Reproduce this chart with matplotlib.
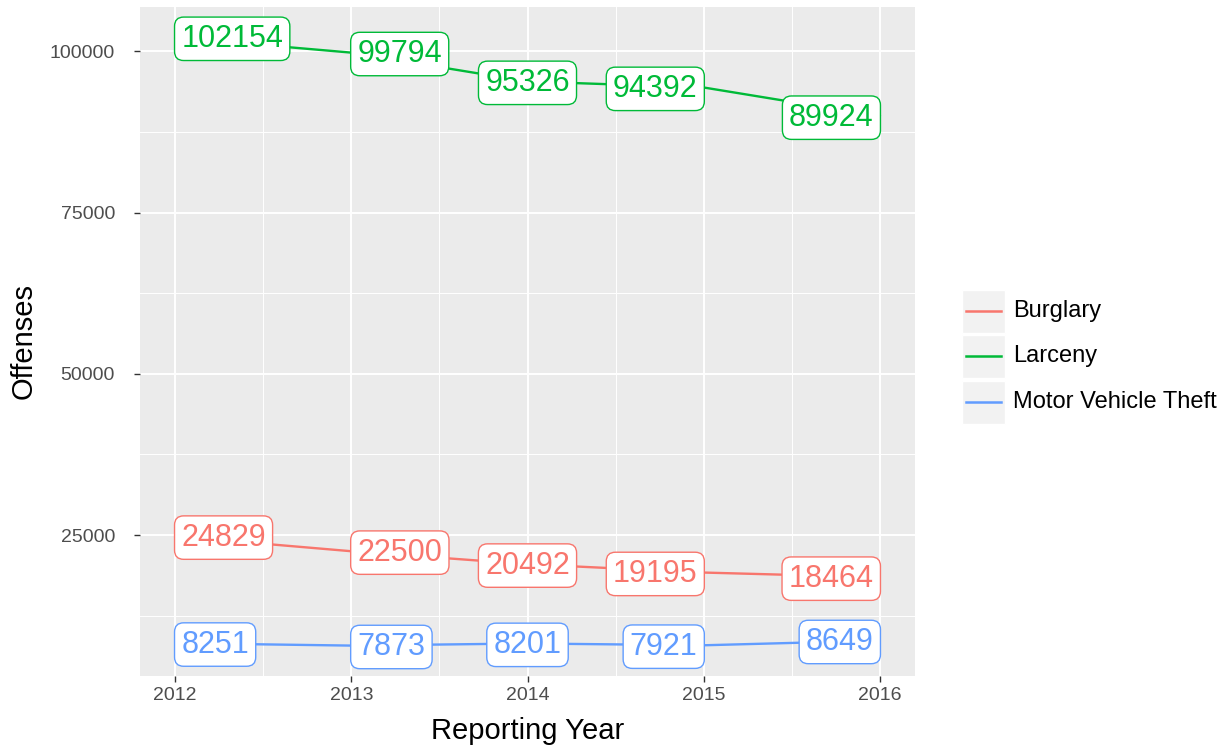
import matplotlib.pyplot as plt
from matplotlib.patches import Rectangle
from matplotlib.lines import Line2D

# Данные
years = [2012, 2013, 2014, 2015, 2016]
burglary = [24829, 22500, 20492, 19195, 18464]
larceny = [102154, 99794, 95326, 94392, 89924]
motor = [8251, 7873, 8201, 7921, 8649]
series_names = ["Burglary", "Larceny", "Motor Vehicle Theft"]
series_values = [burglary, larceny, motor]
colors = ["#F8766D", "#00BA38", "#619CFF"]

plt.rcParams['font.family'] = ['Liberation Sans', 'DejaVu Sans']

fig = plt.figure(figsize=(12.27, 7.48), dpi=100)
ax = fig.add_axes([140/1227, 1 - 676/748, (915 - 140)/1227, (676 - 7)/748])
ax.set_facecolor("#EBEBEB")

# Сетка как в ggplot
ax.set_xticks(years)
ax.set_xticks([2012.5, 2013.5, 2014.5, 2015.5], minor=True)
ax.set_yticks([25000, 50000, 75000, 100000])
ax.set_yticks([12500, 37500, 62500, 87500], minor=True)
ax.grid(which="major", color="white", linewidth=1.4)
ax.grid(which="minor", color="white", linewidth=0.7)
ax.set_axisbelow(True)
for s in ax.spines.values():
    s.set_visible(False)
ax.tick_params(which="major", length=4, width=1, color="#333333", labelsize=14, labelcolor="#4D4D4D")
ax.tick_params(axis="y", which="major", pad=14)
ax.tick_params(axis="x", which="major", pad=4)
ax.tick_params(which="minor", length=0)

mid = (years[0] + years[-1]) / 2
fs = 22
box_pad = 0.22
off = box_pad * fs - 0.5
for name, vals, c in zip(series_names, series_values, colors):
    ax.plot(years, vals, color=c, linewidth=1.7, zorder=3)
    for x, y in zip(years, vals):
        if x < mid:
            ha, dx = "left", off
        elif x > mid:
            ha, dx = "right", -off
        else:
            ha, dx = "center", 0
        ax.annotate(str(y), (x, y), xytext=(dx, -1), textcoords="offset points",
                    ha=ha, va="center", fontsize=fs, color=c, zorder=4,
                    bbox=dict(boxstyle="round,pad=%s,rounding_size=0.3" % box_pad,
                              fc="white", ec=c, lw=1.0))

ax.set_xlim(2011.8, 2016.2)
ax.set_ylim(3159, 106868)
ax.set_xlabel("Reporting Year", fontsize=21, labelpad=9)
ax.set_ylabel("Offenses", fontsize=21, labelpad=9)

# Легенда вручную
key_top = [289, 334, 380]
for i, (name, c) in enumerate(zip(series_names, colors)):
    y0 = key_top[i]
    fig.patches.append(Rectangle((962/1227, 1 - (y0 + 44)/748), 43/1227, 43/748,
                                 transform=fig.transFigure, fc="#F2F2F2", ec="white", lw=1))
    yc = 1 - (y0 + 22)/748
    fig.lines.append(Line2D([966/1227, 1001/1227], [yc, yc], transform=fig.transFigure,
                            color=c, linewidth=1.8))
    fig.text(1013/1227, yc, name, fontsize=17, va="center", ha="left", color="black")

fig.savefig("out.png", dpi=100)
